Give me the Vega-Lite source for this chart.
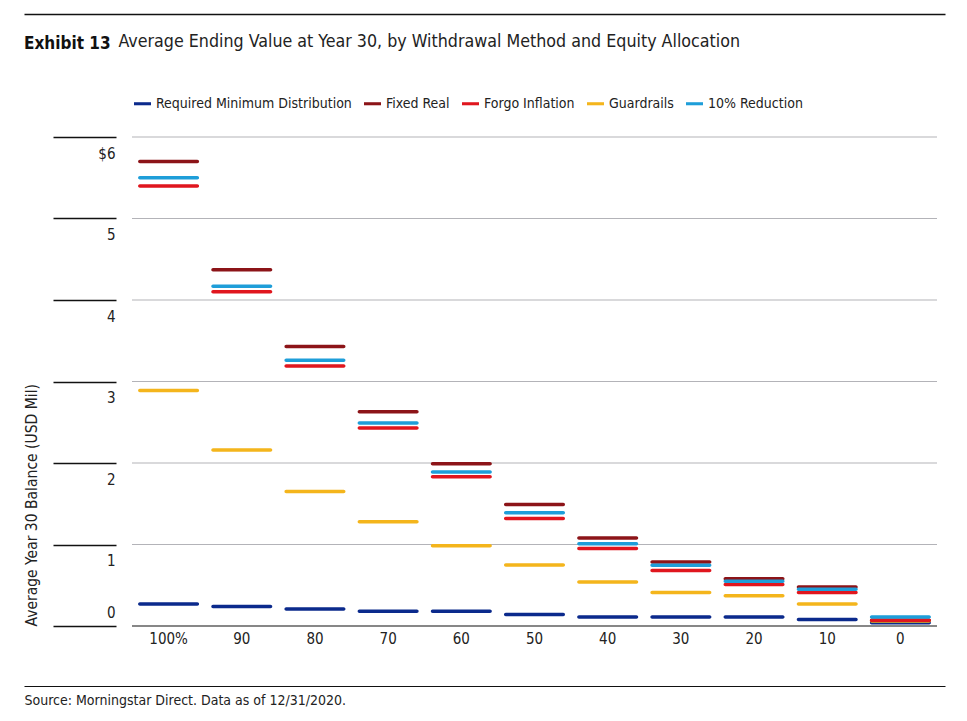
{
  "$schema": "https://vega.github.io/schema/vega-lite/v6.json",
  "width": 921,
  "height": 489,
  "autosize": "none",
  "padding": {"left": 24, "top": 137, "right": 22, "bottom": 95},
  "background": "white",
  "config": {
    "font": "'DejaVu Sans Condensed', 'Liberation Sans Narrow', 'Roboto'",
    "view": {"stroke": null},
    "axis": {"labelColor": "#222", "titleColor": "#222", "titleFontWeight": "normal"}
  },
  "title": {
    "text": "Exhibit 13",
    "anchor": "start",
    "frame": "group",
    "fontSize": 17,
    "fontWeight": "bold",
    "color": "#111",
    "baseline": "middle",
    "dy": 51
  },
  "datasets": {
    "grid": [
      {"g": 0}, {"g": 1}, {"g": 2}, {"g": 3}, {"g": 4}, {"g": 5}, {"g": 6}
    ]
  },
  "data": {
    "values": [
      {"alloc": "100%", "method": "Required Minimum Distribution", "v": 0.27},
      {"alloc": "90", "method": "Required Minimum Distribution", "v": 0.24},
      {"alloc": "80", "method": "Required Minimum Distribution", "v": 0.21},
      {"alloc": "70", "method": "Required Minimum Distribution", "v": 0.18},
      {"alloc": "60", "method": "Required Minimum Distribution", "v": 0.18},
      {"alloc": "50", "method": "Required Minimum Distribution", "v": 0.14},
      {"alloc": "40", "method": "Required Minimum Distribution", "v": 0.11},
      {"alloc": "30", "method": "Required Minimum Distribution", "v": 0.11},
      {"alloc": "20", "method": "Required Minimum Distribution", "v": 0.11},
      {"alloc": "10", "method": "Required Minimum Distribution", "v": 0.08},
      {"alloc": "0", "method": "Required Minimum Distribution", "v": 0.04},
      {"alloc": "100%", "method": "Guardrails", "v": 2.89},
      {"alloc": "90", "method": "Guardrails", "v": 2.16},
      {"alloc": "80", "method": "Guardrails", "v": 1.65},
      {"alloc": "70", "method": "Guardrails", "v": 1.28},
      {"alloc": "60", "method": "Guardrails", "v": 0.985},
      {"alloc": "50", "method": "Guardrails", "v": 0.75},
      {"alloc": "40", "method": "Guardrails", "v": 0.54},
      {"alloc": "30", "method": "Guardrails", "v": 0.41},
      {"alloc": "20", "method": "Guardrails", "v": 0.37},
      {"alloc": "10", "method": "Guardrails", "v": 0.27},
      {"alloc": "0", "method": "Guardrails", "v": 0.06},
      {"alloc": "100%", "method": "Fixed Real", "v": 5.7},
      {"alloc": "90", "method": "Fixed Real", "v": 4.37},
      {"alloc": "80", "method": "Fixed Real", "v": 3.43},
      {"alloc": "70", "method": "Fixed Real", "v": 2.63},
      {"alloc": "60", "method": "Fixed Real", "v": 1.99},
      {"alloc": "50", "method": "Fixed Real", "v": 1.49},
      {"alloc": "40", "method": "Fixed Real", "v": 1.08},
      {"alloc": "30", "method": "Fixed Real", "v": 0.785},
      {"alloc": "20", "method": "Fixed Real", "v": 0.58},
      {"alloc": "10", "method": "Fixed Real", "v": 0.48},
      {"alloc": "0", "method": "Fixed Real", "v": 0.07},
      {"alloc": "100%", "method": "Forgo Inflation", "v": 5.4},
      {"alloc": "90", "method": "Forgo Inflation", "v": 4.1},
      {"alloc": "80", "method": "Forgo Inflation", "v": 3.19},
      {"alloc": "70", "method": "Forgo Inflation", "v": 2.43},
      {"alloc": "60", "method": "Forgo Inflation", "v": 1.83},
      {"alloc": "50", "method": "Forgo Inflation", "v": 1.32},
      {"alloc": "40", "method": "Forgo Inflation", "v": 0.95},
      {"alloc": "30", "method": "Forgo Inflation", "v": 0.68},
      {"alloc": "20", "method": "Forgo Inflation", "v": 0.51},
      {"alloc": "10", "method": "Forgo Inflation", "v": 0.41},
      {"alloc": "0", "method": "Forgo Inflation", "v": 0.07},
      {"alloc": "100%", "method": "10% Reduction", "v": 5.5},
      {"alloc": "90", "method": "10% Reduction", "v": 4.17},
      {"alloc": "80", "method": "10% Reduction", "v": 3.26},
      {"alloc": "70", "method": "10% Reduction", "v": 2.49},
      {"alloc": "60", "method": "10% Reduction", "v": 1.89},
      {"alloc": "50", "method": "10% Reduction", "v": 1.39},
      {"alloc": "40", "method": "10% Reduction", "v": 1.01},
      {"alloc": "30", "method": "10% Reduction", "v": 0.745},
      {"alloc": "20", "method": "10% Reduction", "v": 0.55},
      {"alloc": "10", "method": "10% Reduction", "v": 0.45},
      {"alloc": "0", "method": "10% Reduction", "v": 0.11}
    ]
  },
  "resolve": {"axis": {"x": "independent"}},
  "layer": [
    {
      "data": {"name": "grid"},
      "mark": {"type": "tick", "size": 805, "orient": "horizontal", "opacity": 1},
      "encoding": {
        "x": {
          "datum": "50",
          "type": "nominal",
          "scale": {
            "domain": ["100%", "90", "80", "70", "60", "50", "40", "30", "20", "10", "0"],
            "paddingInner": 0,
            "paddingOuter": 0.7926,
            "align": 0.931
          },
          "axis": {
            "orient": "top",
            "offset": 123,
            "domainColor": "#111",
            "domainWidth": 1.5,
            "ticks": false,
            "labels": false,
            "title": "Average Ending Value at Year 30, by Withdrawal Method and Equity Allocation",
            "titleFontSize": 17.7,
            "titleAnchor": "start",
            "titleAlign": "left",
            "titleBaseline": "middle",
            "titleX": 94,
            "titleY": 27
          }
        },
        "y": {"field": "g", "type": "quantitative"},
        "color": {
          "condition": {"test": "datum.g === 0", "value": "#111"},
          "value": "#b3b3b8"
        },
        "strokeWidth": {
          "condition": {"test": "datum.g === 0", "value": 1.5},
          "value": 1
        }
      }
    },
    {
      "mark": {"type": "tick", "size": 61, "thickness": 3.5, "cornerRadius": 1.75, "orient": "horizontal", "opacity": 1},
      "encoding": {
        "x": {
          "field": "alloc",
          "type": "nominal",
          "axis": {
            "orient": "bottom",
            "offset": 60,
            "domainColor": "#111",
            "domainWidth": 1.2,
            "ticks": false,
            "tickSize": 0,
            "labelAngle": 0,
            "labelFontSize": 15,
            "labelPadding": -55,
            "title": "Source: Morningstar Direct. Data as of 12/31/2020.",
            "titleFontSize": 14,
            "titleAnchor": "start",
            "titleAlign": "left",
            "titleBaseline": "middle",
            "titleX": 0,
            "titleY": 14
          }
        },
        "y": {
          "field": "v",
          "type": "quantitative",
          "scale": {"domain": [0, 6], "nice": false, "zero": true},
          "axis": {
            "orient": "left",
            "offset": -92,
            "values": [0, 1, 2, 3, 4, 5, 6],
            "grid": false,
            "domain": false,
            "tickSize": 63,
            "tickColor": "#111",
            "tickWidth": 1.5,
            "labelFontSize": 15,
            "labelPadding": -62,
            "labelAlign": "right",
            "labelBaseline": "middle",
            "labelOffset": {"condition": {"test": "datum.value === 0", "value": -14}, "value": 16},
            "labelExpr": "datum.value === 6 ? '$6' : format(datum.value, 'd')",
            "title": "Average Year 30 Balance (USD Mil)",
            "titleFontSize": 15.5,
            "titleAngle": -90,
            "titleAnchor": "start",
            "titleAlign": "left",
            "titleBaseline": "middle",
            "titleX": -85,
            "titleY": 489
          }
        },
        "color": {
          "field": "method",
          "type": "nominal",
          "scale": {
            "domain": ["Required Minimum Distribution", "Fixed Real", "Forgo Inflation", "Guardrails", "10% Reduction"],
            "range": ["#0b2a8c", "#8c1418", "#e0161e", "#f4b51c", "#1e9ed9"]
          },
          "legend": {
            "orient": "none",
            "legendX": 109,
            "legendY": -43,
            "direction": "horizontal",
            "columns": 5,
            "title": null,
            "symbolType": "M-1,-0.18H1V0.18H-1Z",
            "symbolSize": 289,
            "symbolOpacity": 1,
            "labelFontSize": 14,
            "labelColor": "#222",
            "labelOffset": 4,
            "columnPadding": 11,
            "labelLimit": 300
          }
        }
      }
    }
  ]
}
